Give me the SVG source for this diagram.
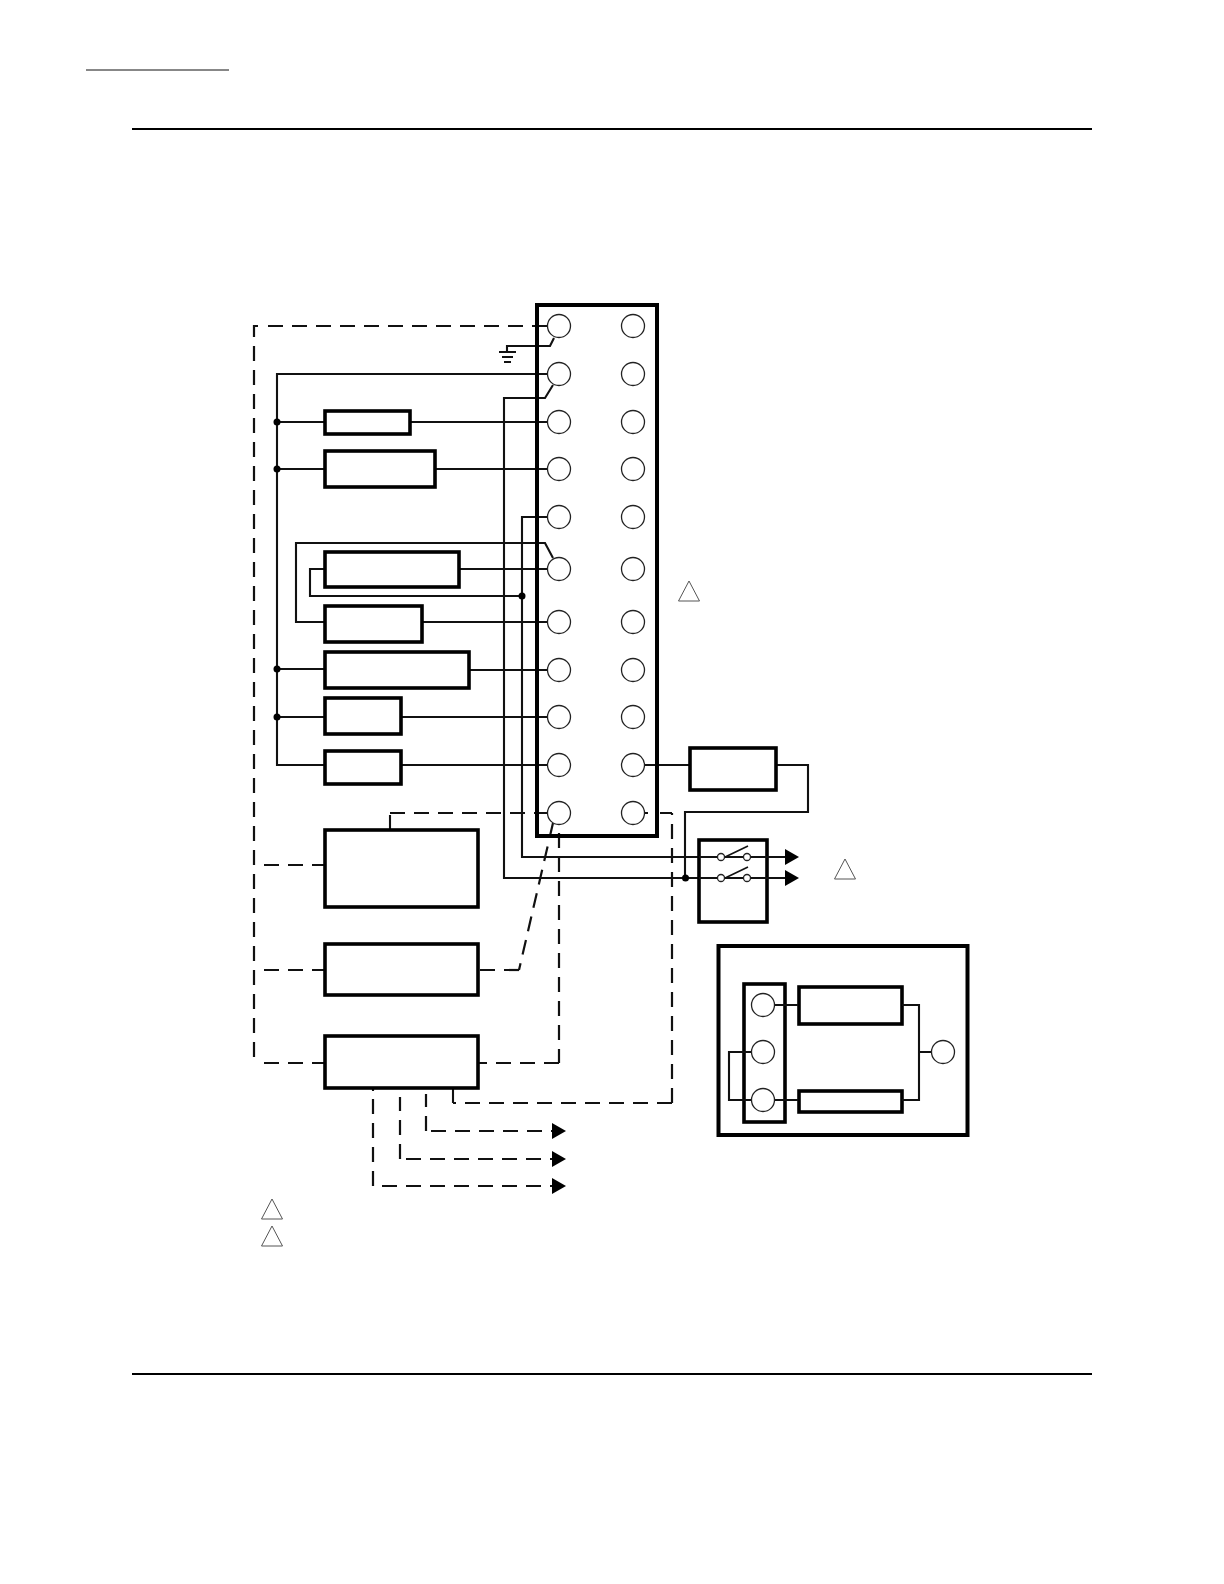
<svg xmlns="http://www.w3.org/2000/svg" width="1224" height="1584" viewBox="0 0 1224 1584">
<style>
rect,circle{fill:#fff}
.b{fill:none;stroke:#000;stroke-width:3.6}
.w{fill:none;stroke:#111;stroke-width:2.1}
.d{fill:none;stroke:#111;stroke-width:2.2;stroke-dasharray:15 9}
.c{fill:#fff;stroke:#222;stroke-width:1.3}
.t{fill:#fff;stroke:#555;stroke-width:1}
.dot{fill:#000}
.a{fill:#000}
</style>
<defs>
<circle id="term" r="11.5" class="c"/>
<polygon id="tri" points="0,0 -10.5,20 10.5,20" class="t"/>
</defs>
<g id="page-rules">
<path d="M86 70H229" fill="none" stroke="#111" stroke-width="1"/>
<path d="M132 129H1092M132 1374H1092" fill="none" stroke="#000" stroke-width="2"/>
</g>
<g id="connectors">
<path class="d" d="M268 326H547"/>
<path class="d" d="M258 326H254V1060"/>
<path class="d" d="M264 865H325M264 970H325M264 1063H325"/>
<path class="w" d="M554 338L550 346H507V352"/>
<path class="w" d="M499 352H516M502 357H513M504 362H511"/>
<path class="w" d="M548 374H277V765H325"/>
<path class="w" d="M277 422H325M410 422H548M277 469H325M435 469H548M277 669H325M469 670H548M277 717H325M401 717H548M401 765H548"/>
<path class="w" d="M553 385L545 398H504V878H785"/>
<path class="w" d="M548 517H522V857H785"/>
<path class="w" d="M459 569H548M325 569H310V596H522"/>
<path class="w" d="M553 558L545 543H296V622H325M422 622H548"/>
<path class="d" d="M390 813H548"/>
<path class="w" d="M390 830V815"/>
<path class="d" d="M553 823L519 970"/>
<path class="d" d="M519 970H478"/>
<path class="d" d="M559 833V1063"/>
<path class="d" d="M559 1063H478"/>
<path class="w" d="M644 813H648M660 813H672"/>
<path class="d" d="M672 1103V813"/>
<path class="d" d="M672 1103H453"/>
<path class="w" d="M453 1088V1103"/>
<path class="d" d="M373 1186V1089"/>
<path class="w" d="M373 1088V1091"/>
<path class="d" d="M400 1159V1097"/>
<path class="d" d="M426 1131V1094"/>
<path class="d" d="M382 1186H552"/>
<path class="d" d="M406 1159H552"/>
<path class="d" d="M431 1131H552"/>
<path class="w" d="M644 765H690M776 765H808V812H685V878"/>
<polygon class="a" points="552,1123 566,1131 552,1139"/>
<polygon class="a" points="552,1151 566,1159 552,1167"/>
<polygon class="a" points="552,1178 566,1186 552,1194"/>
<polygon class="a" points="785,849 799,857 785,865"/>
<polygon class="a" points="785,870 799,878 785,886"/>
<circle class="dot" cx="277" cy="422" r="3.5"/>
<circle class="dot" cx="277" cy="469" r="3.5"/>
<circle class="dot" cx="277" cy="669" r="3.5"/>
<circle class="dot" cx="277" cy="717" r="3.5"/>
<circle class="dot" cx="522" cy="596" r="3.5"/>
<circle class="dot" cx="685.5" cy="878" r="3.5"/>
</g>
<g id="terminal-block">
<rect x="537" y="305" width="120" height="531" style="fill:none" stroke="#000" stroke-width="4"/>
<use href="#term" x="559" y="326"/><use href="#term" x="633" y="326"/>
<use href="#term" x="559" y="374"/><use href="#term" x="633" y="374"/>
<use href="#term" x="559" y="422"/><use href="#term" x="633" y="422"/>
<use href="#term" x="559" y="469"/><use href="#term" x="633" y="469"/>
<use href="#term" x="559" y="517"/><use href="#term" x="633" y="517"/>
<use href="#term" x="559" y="569"/><use href="#term" x="633" y="569"/>
<use href="#term" x="559" y="622"/><use href="#term" x="633" y="622"/>
<use href="#term" x="559" y="670"/><use href="#term" x="633" y="670"/>
<use href="#term" x="559" y="717"/><use href="#term" x="633" y="717"/>
<use href="#term" x="559" y="765"/><use href="#term" x="633" y="765"/>
<use href="#term" x="559" y="813"/><use href="#term" x="633" y="813"/>
</g>
<g id="box-1"><rect class="b" x="325" y="411" width="85" height="23"/></g>
<g id="box-2"><rect class="b" x="325" y="451" width="110" height="36"/></g>
<g id="box-3"><rect class="b" x="325" y="552" width="134" height="35"/></g>
<g id="box-4"><rect class="b" x="325" y="606" width="97" height="36"/></g>
<g id="box-5"><rect class="b" x="325" y="652" width="144" height="36"/></g>
<g id="box-6"><rect class="b" x="325" y="698" width="76" height="36"/></g>
<g id="box-7"><rect class="b" x="325" y="751" width="76" height="33"/></g>
<g id="box-8"><rect class="b" x="325" y="830" width="153" height="77"/></g>
<g id="box-9"><rect class="b" x="325" y="944" width="153" height="51"/></g>
<g id="box-10"><rect class="b" x="325" y="1036" width="153" height="52"/></g>
<g id="box-right"><rect class="b" x="690" y="748" width="86" height="42"/></g>
<g id="switch">
<rect class="b" x="699" y="840" width="68" height="82"/>
<path class="w" d="M699 857H718M699 878H718"/>
<path class="w" d="M751 857H785M751 878H785"/>
<path fill="none" stroke="#111" stroke-width="1.6" d="M723 858L748 846M723 879L748 867"/>
<circle class="c" cx="721" cy="857" r="3.5"/><circle class="c" cx="747" cy="857" r="3.5"/>
<circle class="c" cx="721" cy="878" r="3.5"/><circle class="c" cx="747" cy="878" r="3.5"/>
</g>
<g id="inset">
<rect class="b" x="718.5" y="946" width="249" height="189" style="stroke-width:4"/>
<rect class="b" x="744" y="984" width="41" height="138"/>
<rect class="b" x="799" y="987" width="103" height="37"/>
<rect class="b" x="799" y="1091" width="103" height="21"/>
<path class="w" d="M775 1005H798M902 1005H919V1100H902M919 1052H932M775 1100H798M752 1052H729V1100H752"/>
<use href="#term" x="763" y="1005"/>
<use href="#term" x="763" y="1052"/>
<use href="#term" x="763" y="1100"/>
<use href="#term" x="943" y="1052"/>
</g>
<g id="notes">
<use href="#tri" x="689" y="581"/>
<use href="#tri" x="845" y="859"/>
<use href="#tri" x="272" y="1199"/>
<use href="#tri" x="272" y="1226"/>
</g>
</svg>
